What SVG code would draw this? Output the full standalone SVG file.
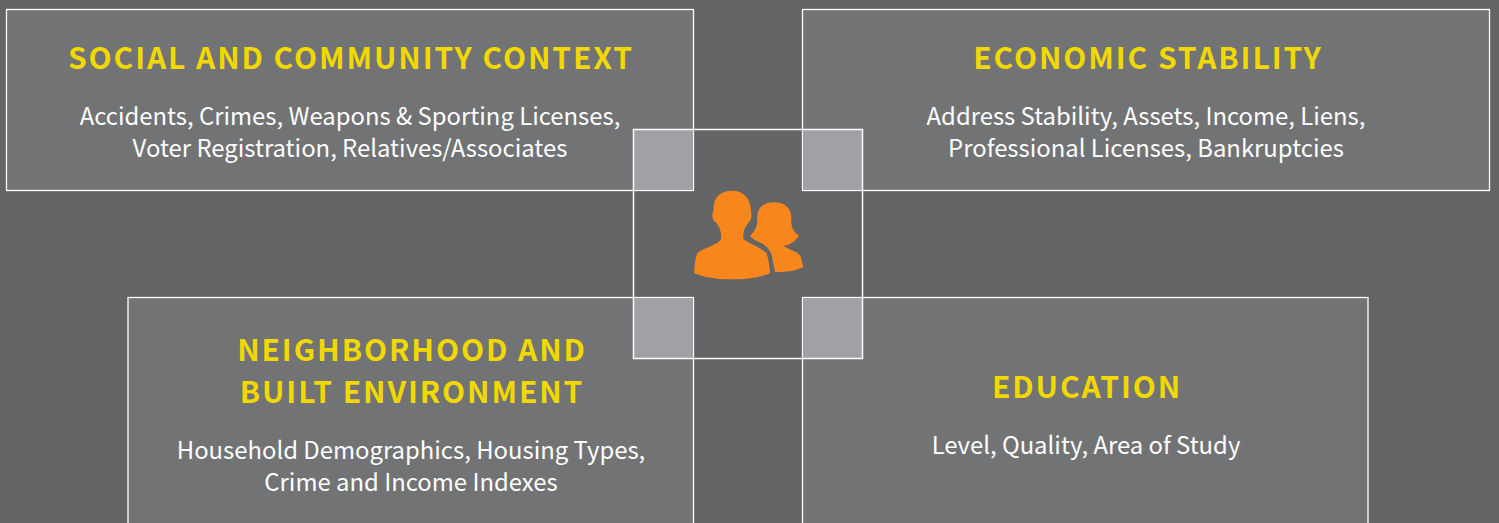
<svg xmlns="http://www.w3.org/2000/svg" width="1499" height="523" viewBox="0 0 1499 523">
<style>
.box{fill:#727375;stroke:#fff;stroke-width:1.3}
.ov{fill:#a0a1a4}
.c{fill:none;stroke:#fff;stroke-width:1.5}
.icon{fill:#f7861c}
.h{font-family:"Noto Sans CJK SC","Noto Sans",sans-serif;font-size:30px;font-weight:700;fill:#f0d800;text-anchor:middle;letter-spacing:1.9px}
.t{font-family:"Noto Sans CJK SC","Noto Sans",sans-serif;font-size:23.870px;font-weight:400;fill:#fff;text-anchor:middle}
</style>
<rect width="1499" height="523" fill="#636466"/>
<g id="social"><rect class="box" x="6.500" y="9.500" width="687" height="181"/>
<text class="h" x="351" y="68.700">SOCIAL AND COMMUNITY CONTEXT</text>
<text class="t" x="350" y="125">Accidents, Crimes, Weapons &amp; Sporting Licenses,</text>
<text class="t" x="350" y="157">Voter Registration, Relatives/Associates</text></g>
<g id="economic"><rect class="box" x="802.500" y="9.500" width="687" height="181"/>
<text class="h" x="1148" y="68.700">ECONOMIC STABILITY</text>
<text class="t" x="1146" y="125">Address Stability, Assets, Income, Liens,</text>
<text class="t" x="1146" y="157">Professional Licenses, Bankruptcies</text></g>
<g id="neighborhood"><rect class="box" x="128" y="297.500" width="565.500" height="240"/>
<text class="h" x="412" y="360.700">NEIGHBORHOOD AND</text>
<text class="h" x="412" y="402.700">BUILT ENVIRONMENT</text>
<text class="t" x="411" y="459">Household Demographics, Housing Types,</text>
<text class="t" x="411" y="491">Crime and Income Indexes</text></g>
<g id="education"><rect class="box" x="802.500" y="297.500" width="565.500" height="240"/>
<text class="h" x="1087" y="397.700">EDUCATION</text>
<text class="t" x="1086" y="454">Level, Quality, Area of Study</text></g>
<g id="center">
<rect class="ov" x="634" y="130" width="59" height="60"/><rect class="ov" x="803" y="130" width="59" height="60"/>
<rect class="ov" x="634" y="298" width="59" height="60"/><rect class="ov" x="803" y="298" width="59" height="60"/>
<rect class="c" x="633.500" y="129.500" width="229" height="229"/>
<g transform="translate(620 120) scale(.33333)">
<path class="icon" d="M460 247C495 247 515 265 514 295C512 315 518 335 537 347C525 365 510 375 490 378C510 390 535 395 542 410L550 440C530 452 500 456 465 456L458 420C455 395 445 385 430 372C415 365 400 360 390 347C405 335 412 320 412 295C410 265 430 247 460 247Z"/>
<path class="icon" d="M335 212C370 212 392 235 392 268C396 285 396 300 385 308C378 320 370 330 370 345L370 355C372 365 420 380 440 400C445 420 450 440 450 460C420 472 380 478 335 478C290 478 250 472 222 458C224 440 225 415 232 400C245 385 300 375 303 355L303 340C300 325 295 315 288 308C276 300 274 285 281 268C278 235 300 212 335 212Z"/>
</g>
</g>
</svg>
